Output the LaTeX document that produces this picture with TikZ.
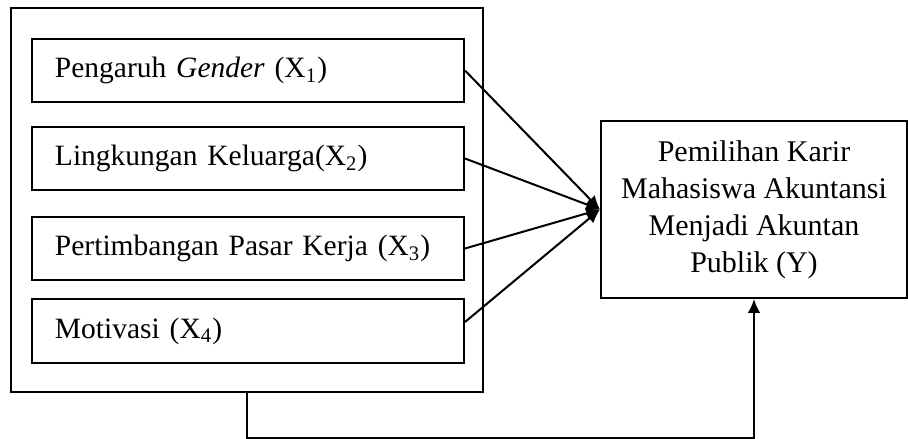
\documentclass[tikz,border=0pt]{standalone}
\usepackage{fontspec}
\setmainfont{Liberation Serif}
\usetikzlibrary{arrows.meta}

\begin{document}
\begin{tikzpicture}[x=0.4pt,y=-0.4pt,thick,
        varbox/.style={draw,minimum height=25.2pt,inner xsep=9.2pt,text width=154.4pt,align=left,font=\fontsize{11.8}{14}\selectfont},
        goalbox/.style={draw,minimum width=122.4pt,minimum height=70.8pt,align=center,font=\fontsize{12}{14.8}\selectfont},
        arr/.style={-{Latex[length=5.5pt,width=5pt]}}]
        \useasboundingbox (0,0) rectangle (908,439);
        \node[draw,minimum width=188.8pt,minimum height=153.6pt] (outer) at (247,200) {};
        \node[varbox] (x1) at (248,70.5) {Pengaruh \textit{Gender} (X\textsubscript{1})};
        \node[varbox] (x2) at (248,158.5) {Lingkungan Keluarga(X\textsubscript{2})};
        \node[varbox] (x3) at (248,248.5) {Pertimbangan Pasar Kerja (X\textsubscript{3})};
        \node[varbox] (x4) at (248,331) {Motivasi (X\textsubscript{4})};
        \node[goalbox] (y) at (754,209.5) {Pemilihan Karir\\Mahasiswa Akuntansi\\Menjadi Akuntan\\Publik (Y)};
        \draw[arr] (x1.east) -- (y.west);
        \draw[arr] (x2.east) -- (y.west);
        \draw[arr] (x3.east) -- (y.west);
        \draw[arr] ([yshift=3.6pt]x4.east) -- (y.west);
        \draw[arr] (outer.south) -- ++(0,45) -| (y.south);
    \end{tikzpicture}
\end{document}
